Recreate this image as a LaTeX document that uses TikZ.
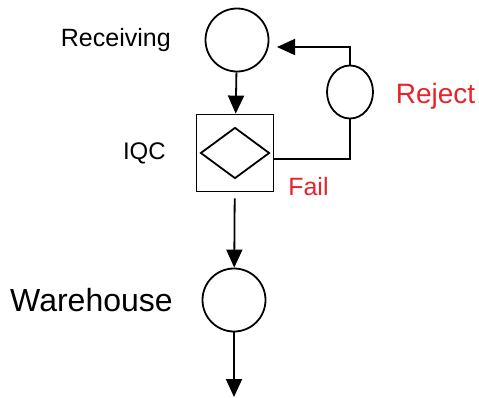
\documentclass[tikz,border=0pt]{standalone}
\usepackage{fontspec}
\setmainfont{Liberation Sans}
\usepackage{xcolor}
\definecolor{failred}{HTML}{E8232C}
\usepackage{tikz}
\usetikzlibrary{arrows.meta, positioning, shapes.geometric}

\tikzset{
	station/.style={draw, circle, inner sep=0pt, minimum size=63pt},
	flow/.style={-{Triangle[length=18pt, width=16pt]}},
	lbl/.style={inner sep=0pt, font=\fontsize{#1}{#1}\selectfont},
}

\begin{document}
\begin{tikzpicture}[x=1pt, y=-1pt, line width=1.8pt]
	
	\useasboundingbox (0, 0) rectangle (479, 397);
	
	% process steps
	\node[station] (recv) at (237, 40) {};
	\node[draw, rectangle, inner sep=0pt, minimum size=77pt] (iqc) at (235, 153) {};
	\node[draw, diamond, inner sep=0pt, minimum width=69pt, minimum height=51pt] (check) at (iqc.center) {};
	\node[draw, ellipse, inner sep=0pt, minimum width=46pt, minimum height=53pt] (reject) at (350, 92) {};
	\node[station] (ware) at (234, 300) {};
	\coordinate (out) at (234, 397);
	\coordinate (back) at (277, 47);
	
	% labels
	\node[lbl=25, left=33pt of recv] (recvlbl) {Receiving};
	\node[lbl=24, left=29pt of iqc] (iqclbl) {IQC};
	\node[lbl=32, left=28pt of ware] (warelbl) {Warehouse};
	\node[lbl=28, right=21pt of reject, text=failred, yshift=-4pt] (rejlbl) {Reject};
	\node[lbl=25, anchor=west, text=failred] (faillbl) at ([xshift=13pt, yshift=6pt]iqc.south east) {Fail};
	
	% flow lines
	\draw[flow] (recv) -- (iqc);
	\draw[flow, shorten <=6pt] (iqc) -- (ware);
	\draw[flow] (ware) -- (out);
	\draw ([yshift=-6pt]iqc.east) -| (reject.south);
	\draw[flow] (reject.north) |- (back);
\end{tikzpicture}
\end{document}
